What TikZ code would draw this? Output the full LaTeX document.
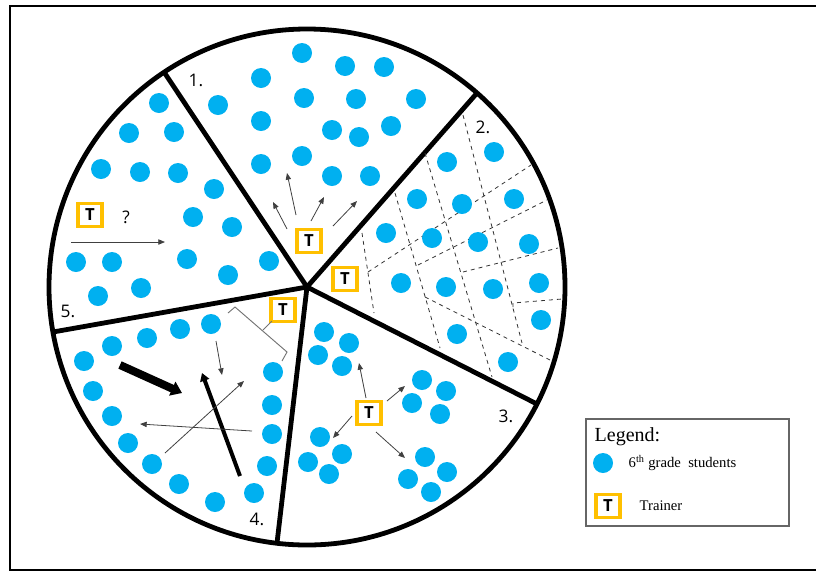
\documentclass[tikz,border=0pt]{standalone}
\usepackage{fontspec}
\setmainfont{Liberation Serif}
\newfontfamily\piefont{Open Sans}
\usetikzlibrary{arrows.meta}

\definecolor{dotblue}{RGB}{0,176,240}
\definecolor{trainergold}{RGB}{255,192,0}

\tikzset{
  student/.style={circle, fill=dotblue, inner sep=0pt, minimum size=15pt},
  trainer/.style={draw=trainergold, line width=2.3pt, fill=white, minimum width=18pt,
    minimum height=17.3pt, inner sep=0pt, text=black, font=\piefont\bfseries\fontsize{12.5}{13}\selectfont},
  spoke/.style={line width=3.6pt},
  move/.style={draw=black!75, line width=0.6pt, -{Triangle[length=5pt,width=4pt]}},
  cutline/.style={dashed, line width=0.6pt, draw=black!80},
  seclabel/.style={font=\piefont\fontsize{13}{15}\selectfont}
}

\begin{document}
\begin{tikzpicture}[x=0.75pt,y=-0.75pt]
\useasboundingbox (0,0) rectangle (816,572);
\draw[line width=1.8pt] (816,6) -- (10,6) -- (10,570) -- (816,570);

% pie and its five parts
\coordinate (c) at (307,287);
\draw[spoke] (c) circle[radius=193.5pt];
\coordinate (e15) at (164,72);
\coordinate (e12) at (477,93);
\coordinate (e23) at (537,404);
\coordinate (e34) at (277,543);
\coordinate (e45) at (53,332);
\foreach \e in {e15,e12,e23,e34,e45}
  \draw[spoke] (c) -- (\e);

\node[seclabel] (n1) at (196,80) {1.};
\node[seclabel] (n2) at (483,127) {2.};
\node[seclabel] (n3) at (506,416) {3.};
\node[seclabel] (n4) at (257,519) {4.};
\node[seclabel] (n5) at (68,311) {5.};

% part 2: dashed cut lines
\draw[cutline] (362,233) -- (374,313);
\draw[cutline] (395,193) -- (440,348);
\draw[cutline] (425,153) -- (492,377);
\draw[cutline] (463,115) -- (522,343);
\draw[cutline] (368,272) -- (531,165);
\draw[cutline] (418,265) -- (547,200);
\draw[cutline] (463,272) -- (558,248);
\draw[cutline] (513,307) -- (513,303) -- (562,299);
\draw[cutline] (425,297) -- (550,360);

% students
\foreach \p [count=\i] in {(302,53),(345,66),(384,67),(261,78),(218,105),(304,98),(356,99),(416,99),
    (261,121),(332,130),(359,137),(391,126),(261,164),(302,156),(332,176),(370,176)}
  \node[student] (sa\i) at \p {};
\foreach \p [count=\i] in {(494,152),(447,162),(417,199),(462,204),(514,199),(386,233),(432,238),(478,242),
    (529,244),(401,283),(446,287),(493,289),(539,283),(457,334),(541,320),(508,362)}
  \node[student] (sb\i) at \p {};
\foreach \p [count=\i] in {(324,332),(349,343),(318,355),(342,366),(422,380),(446,391),(412,403),(440,414),
    (320,437),(342,454),(308,462),(329,474),(425,457),(447,472),(408,479),(431,492)}
  \node[student] (sc\i) at \p {};
\foreach \p [count=\i] in {(211,324),(180,329),(147,338),(112,346),(84,361),(93,391),(112,416),(128,443),
    (152,464),(179,484),(215,502),(254,493),(267,466),(272,434),(272,405),(273,372)}
  \node[student] (sd\i) at \p {};
\foreach \p [count=\i] in {(159,103),(129,133),(174,132),(101,169),(140,172),(178,173),(214,189),(193,217),
    (232,227),(76,262),(112,262),(187,259),(269,261),(98,296),(141,288),(228,275)}
  \node[student] (se\i) at \p {};

% trainers
\node[trainer] (ta) at (309,241) {T};
\node[trainer] (tb) at (345,279) {T};
\node[trainer] (tc) at (369,413) {T};
\node[trainer] (td) at (283,310) {T};
\node[trainer] (te) at (90,215) {T};
\node[font=\piefont\fontsize{13}{15}\selectfont] (qe) at (126,217) {?};

% moves in part 1
\coordinate (ma1) at (287,229); \coordinate (mb1) at (273,202);
\coordinate (ma2) at (296,215); \coordinate (mb2) at (287,173);
\coordinate (ma3) at (311,221); \coordinate (mb3) at (324,197);
\coordinate (ma4) at (333,226); \coordinate (mb4) at (357,201);
\foreach \i in {1,...,4}
  \draw[move] (ma\i) -- (mb\i);

% moves in part 3
\coordinate (mc1) at (366,398); \coordinate (md1) at (359,363);
\coordinate (mc2) at (387,401); \coordinate (md2) at (405,386);
\coordinate (mc3) at (352,416); \coordinate (md3) at (333,438);
\coordinate (mc4) at (376,432); \coordinate (md4) at (405,458);
\foreach \i in {1,...,4}
  \draw[move] (mc\i) -- (md\i);

% move in part 5
\coordinate (me1) at (71,242); \coordinate (mf1) at (165,242);
\draw[move] (me1) -- (mf1);

% moves in part 4
\coordinate (mg1) at (120,365); \coordinate (mh1) at (182,393);
\coordinate (mg2) at (240,476); \coordinate (mh2) at (202,373);
\coordinate (mg3) at (216,341); \coordinate (mh3) at (222,375);
\coordinate (mg4) at (165,453); \coordinate (mh4) at (244,381);
\coordinate (mg5) at (252,431); \coordinate (mh5) at (140,424);
\draw[line width=6pt, -{Triangle[length=8pt,width=11pt]}] (mg1) -- (mh1);
\draw[line width=3pt, -{Triangle[length=6pt,width=7pt]}] (mg2) -- (mh2);
\foreach \i in {3,4,5}
  \draw[move] (mg\i) -- (mh\i);

% brace to the trainer of part 4
\coordinate (br1) at (228,313); \coordinate (br2) at (235,307);
\coordinate (br3) at (287,352); \coordinate (br4) at (282,361);
\coordinate (brm) at (263,330); \coordinate (brt) at (272,321);
\draw[black!55, line width=0.7pt] (br1) -- (br2) -- (br3) -- (br4);
\draw[black!55, line width=0.7pt] (brm) -- (brt);

% legend
\draw[draw=black!60, line width=1pt] (586,419) rectangle (789,526);
\node[anchor=west, font=\fontsize{15}{18}\selectfont] (lg) at (590,437) {Legend:};
\node[student] (ls) at (603,463) {};
\node[anchor=west, font=\fontsize{11}{13}\selectfont] (lst) at (624,463) {6\textsuperscript{th} grade~~students};
\node[trainer] (lt) at (608,506) {T};
\node[anchor=west, font=\fontsize{11}{13}\selectfont] (ltt) at (635,506) {Trainer};
\end{tikzpicture}
\end{document}
